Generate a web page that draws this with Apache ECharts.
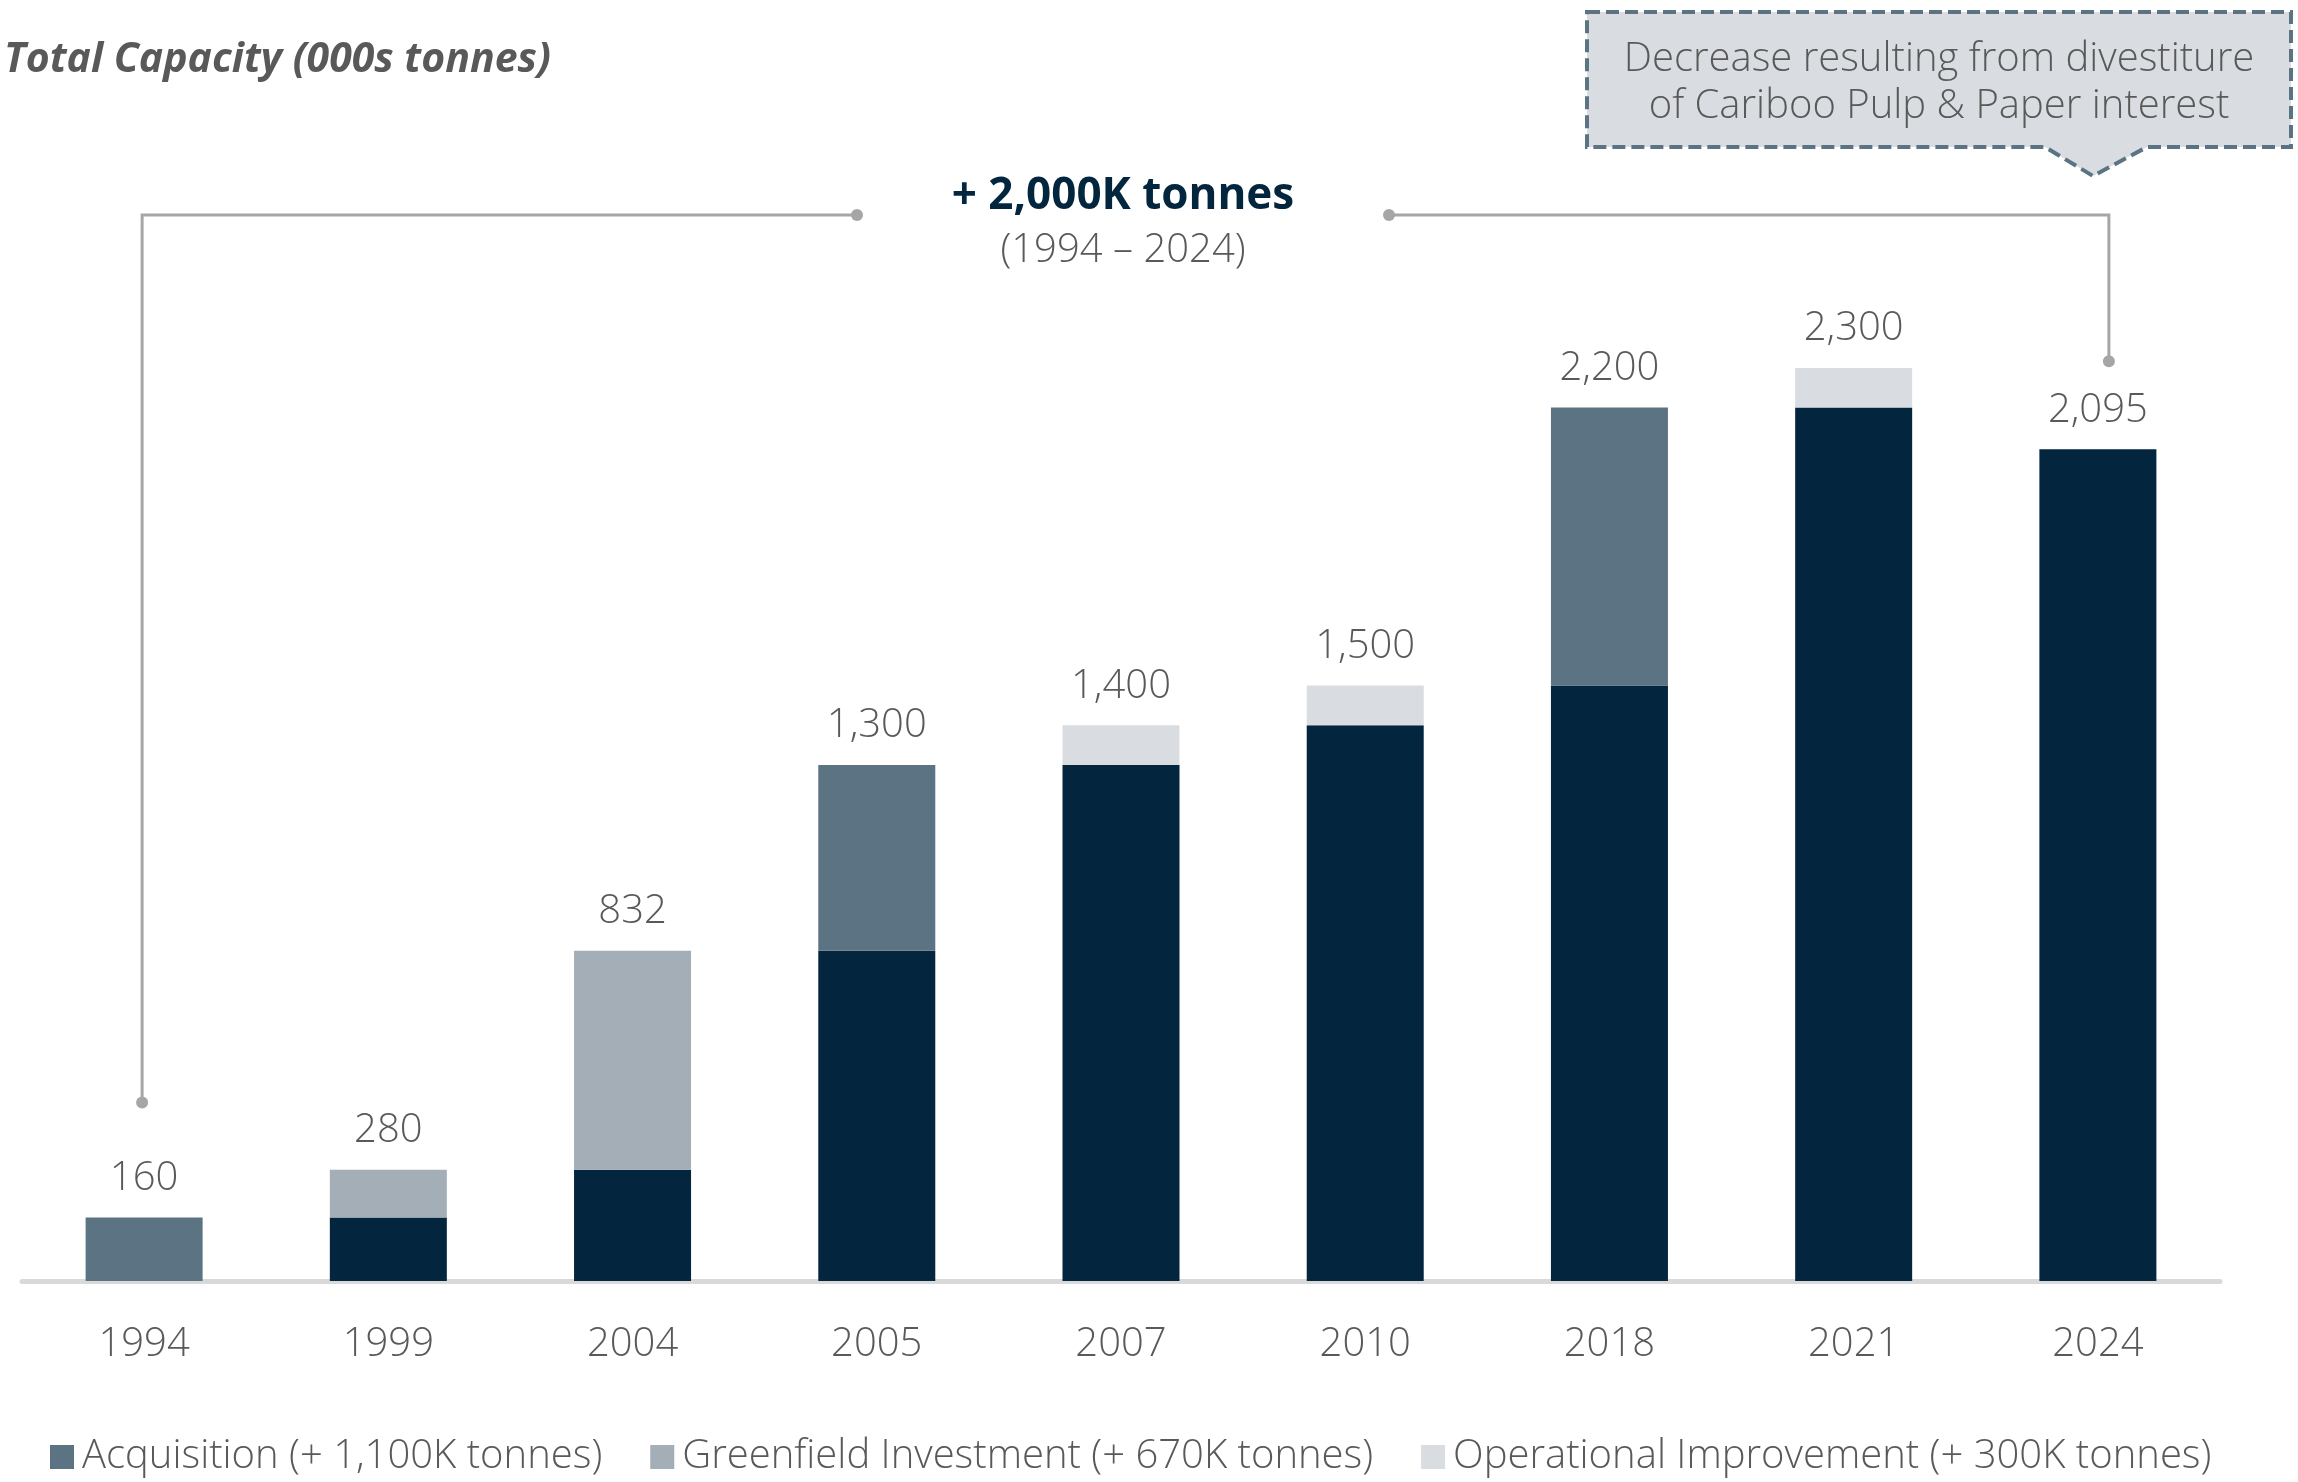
<!DOCTYPE html>
<html>
<head>
<meta charset="utf-8">
<script src="https://cdn.jsdelivr.net/npm/echarts@6/dist/echarts.min.js"></script>
<style>
  html, body { margin: 0; padding: 0; background: #fff; }
  #chart { width: 2298px; height: 1482px; }
</style>
</head>
<body>
<div id="chart"></div>
<script>
// data
var years = ['1994', '1999', '2004', '2005', '2007', '2010', '2018', '2021', '2024']
var baseCap = [0, 160, 280, 832, 1300, 1400, 1500, 2200, 2095]
var acquisition = [160, 0, 0, 468, 0, 0, 700, 0, 0]
var greenfield = [0, 120, 552, 0, 0, 0, 0, 0, 0]
var operational = [0, 0, 0, 0, 100, 100, 0, 100, 0]
var totals = [160, 280, 832, 1300, 1400, 1500, 2200, 2300, 2095]
var legendNames = ['Acquisition (+ 1,100K tonnes)', 'Greenfield Investment (+ 670K tonnes)', 'Operational Improvement (+ 300K tonnes)']

var FONT = '"Open Sans", sans-serif'
var GREY = '#595959'
var NAVY = '#03253d'
var LINE = '#a6a6a6'

var chart = echarts.init(document.getElementById('chart'))

function fmt(v) {
  return v >= 1000 ? Math.floor(v / 1000) + ',' + String(v % 1000).padStart(3, '0') : String(v)
}

var option = {
  animation: false,
  grid: { left: 22, right: 78, top: 90, bottom: 201, containLabel: false },
  legend: {
    data: legendNames,
    left: 45,
    top: 1432,
    icon: 'rect',
    itemWidth: 24,
    itemHeight: 24,
    itemGap: 48,
    textStyle: { fontFamily: FONT, fontSize: 40, fontWeight: 300, color: GREY, padding: [0, 0, 0, 3] }
  },
  xAxis: {
    type: 'category',
    data: years,
    axisTick: { show: false },
    axisLine: { lineStyle: { color: '#d9d9d9', width: 5 } },
    axisLabel: { margin: 44, fontFamily: FONT, fontSize: 40, fontWeight: 300, color: GREY }
  },
  yAxis: {
    type: 'value',
    min: 0,
    max: 3000,
    show: false,
    splitLine: { show: false }
  },
  series: [
    {
      name: 'Base',
      type: 'bar',
      stack: 'cap',
      barWidth: 117,
      data: baseCap,
      itemStyle: { color: NAVY }
    },
    {
      name: legendNames[0],
      type: 'bar',
      stack: 'cap',
      data: acquisition,
      itemStyle: { color: '#5c7384' }
    },
    {
      name: legendNames[1],
      type: 'bar',
      stack: 'cap',
      data: greenfield,
      itemStyle: { color: '#a3aeb7' }
    },
    {
      name: legendNames[2],
      type: 'bar',
      stack: 'cap',
      data: operational,
      itemStyle: { color: '#d9dde1' }
    },
    {
      // invisible cap carrying the total labels
      name: 'Total',
      type: 'bar',
      stack: 'cap',
      data: years.map(function () { return 0 }),
      itemStyle: { color: 'transparent' },
      label: {
        show: true,
        position: 'top',
        distance: 19,
        fontFamily: FONT,
        fontSize: 40,
        fontWeight: 300,
        color: GREY,
        formatter: function (p) { return fmt(totals[p.dataIndex]) }
      }
    }
  ]
}
chart.setOption(option)

// annotations placed from the axis scale
var first = chart.convertToPixel({ gridIndex: 0 }, [0, totals[0]])
var last = chart.convertToPixel({ gridIndex: 0 }, [years.length - 1, totals[years.length - 1]])
var bracketY = 215
var lx = first[0] - 2
var ly = first[1] - 115
var rx = last[0] + 11
var ry = last[1] - 88

chart.setOption({
  graphic: [
    {
      type: 'text',
      left: 4,
      top: 40,
      style: { text: 'Total Capacity (000s tonnes)', font: 'italic bold 41px ' + FONT, fill: GREY }
    },
    {
      type: 'polyline',
      shape: { points: [[lx, ly], [lx, bracketY], [857, bracketY]] },
      style: { stroke: LINE, lineWidth: 3, fill: null }
    },
    {
      type: 'polyline',
      shape: { points: [[1389, bracketY], [rx, bracketY], [rx, ry]] },
      style: { stroke: LINE, lineWidth: 3, fill: null }
    },
    { type: 'circle', shape: { cx: lx, cy: ly, r: 6 }, style: { fill: LINE } },
    { type: 'circle', shape: { cx: 857, cy: bracketY, r: 6 }, style: { fill: LINE } },
    { type: 'circle', shape: { cx: 1389, cy: bracketY, r: 6 }, style: { fill: LINE } },
    { type: 'circle', shape: { cx: rx, cy: ry, r: 6 }, style: { fill: LINE } },
    {
      type: 'text',
      x: 1123,
      y: 196,
      style: { text: '+ 2,000K tonnes', font: 'bold 44px ' + FONT, fill: NAVY, align: 'center', verticalAlign: 'middle' }
    },
    {
      type: 'text',
      x: 1123,
      y: 251,
      style: { text: '(1994 \u2013 2024)', font: '300 40px ' + FONT, fill: GREY, align: 'center', verticalAlign: 'middle' }
    },
    {
      type: 'polygon',
      shape: { points: [[1587, 12], [2291, 12], [2291, 147], [2147, 147], [2093, 176], [2045, 147], [1587, 147]] },
      style: { fill: '#d9dde1', stroke: '#5c7384', lineWidth: 4, lineDash: [13, 6] }
    },
    {
      type: 'text',
      x: 1939,
      y: 83,
      style: {
        text: 'Decrease resulting from divestiture\nof Cariboo Pulp & Paper interest',
        font: '300 40px ' + FONT,
        lineHeight: 47,
        fill: GREY,
        align: 'center',
        verticalAlign: 'middle'
      }
    }
  ]
})
</script>
</body>
</html>
